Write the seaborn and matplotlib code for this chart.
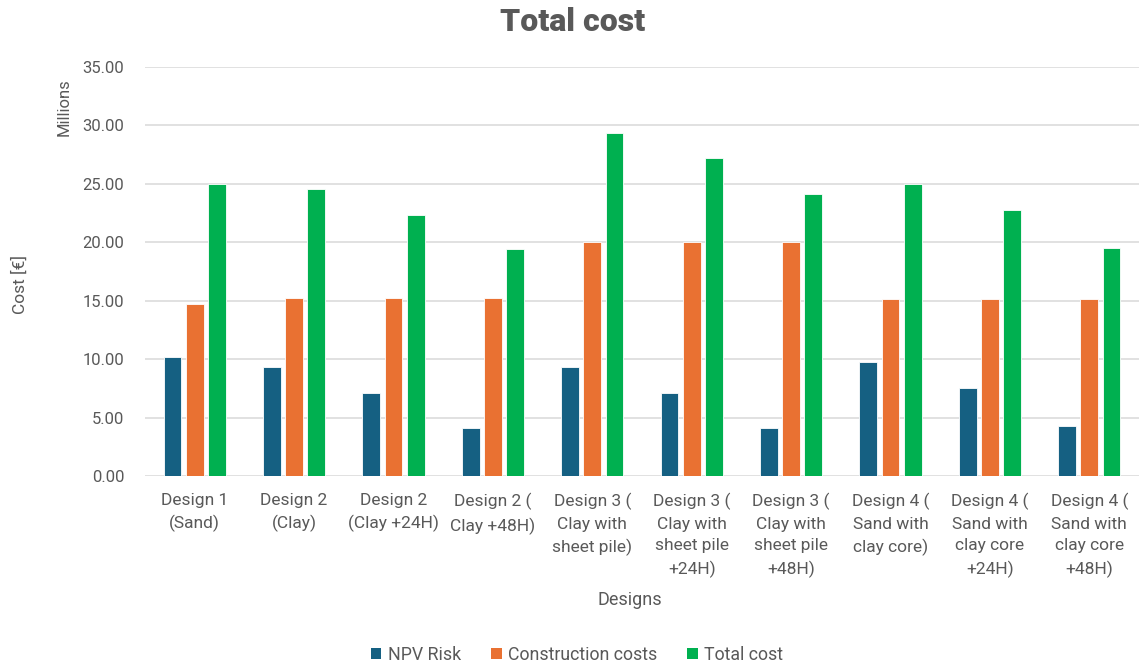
import matplotlib
matplotlib.use("Agg")
import matplotlib.pyplot as plt
from matplotlib.patches import Patch
import seaborn as sns
import pandas as pd

designs = [
    "Design 1\n(Sand)",
    "Design 2\n(Clay)",
    "Design 2\n(Clay +24H)",
    "Design 2 (\nClay +48H)",
    "Design 3 (\nClay with\nsheet pile)",
    "Design 3 (\nClay with\nsheet pile\n+24H)",
    "Design 3 (\nClay with\nsheet pile\n+48H)",
    "Design 4 (\nSand with\nclay core)",
    "Design 4 (\nSand with\nclay core\n+24H)",
    "Design 4 (\nSand with\nclay core\n+48H)",
]
npv_risk = [10.22, 9.30, 7.08, 4.14, 9.30, 7.08, 4.08, 9.73, 7.51, 4.28]
construction_costs = [14.73, 15.24, 15.24, 15.24, 20.03, 20.03, 20.03, 15.13, 15.13, 15.13]
total_cost = [24.97, 24.60, 22.37, 19.43, 29.37, 27.17, 24.17, 24.97, 22.75, 19.49]
series_names = ["NPV Risk", "Construction costs", "Total cost"]
series_colors = ["#156082", "#E97132", "#00B050"]
y_ticks = [0, 5, 10, 15, 20, 25, 30, 35]

df = pd.DataFrame({
    "Design": designs * 3,
    "Series": [s for s in series_names for _ in designs],
    "Cost": npv_risk + construction_costs + total_cost,
})

sns.set_theme(style="white")
plt.rcParams["font.family"] = ["Roboto", "DejaVu Sans"]

txt = "#595959"
fig = plt.figure(figsize=(11.39, 6.64), dpi=100)
ax = fig.add_axes([145 / 1139, 1 - 476 / 664, 1 - 145 / 1139, (476 - 67) / 664])

sns.barplot(data=df, x="Design", y="Cost", hue="Series", hue_order=series_names,
            palette=series_colors, saturation=1, width=0.67, gap=0.2, ax=ax,
            edgecolor="white", linewidth=0.6, legend=False)

ax.set_ylim(0, 35)
ax.set_yticks(y_ticks)
ax.set_yticklabels([f"{v:.2f}" for v in y_ticks], color=txt, fontsize=12)
ax.set_xticks(range(len(designs)))
ax.set_xticklabels(designs, color=txt, fontsize=12.5, linespacing=1.55,
                   va="top", ha="center")
ax.tick_params(axis="y", length=0, pad=15)
ax.tick_params(axis="x", length=0, pad=12)
ax.yaxis.grid(True, color="#d9d9d9", linewidth=1.1)
ax.set_axisbelow(True)
for s in ax.spines.values():
    s.set_visible(False)
ax.set_xlabel("")
ax.set_ylabel("")

fig.text(573 / 1139, 1 - 22 / 664, "Total cost", ha="center", va="center",
         fontsize=23, fontweight="black", color=txt)
fig.text(64 / 1139, 1 - 107 / 664, "Millions", rotation=90, ha="center", va="center",
         fontsize=12, color=txt)
fig.text(20 / 1139, 1 - 285 / 664, "Cost [€]", rotation=90, ha="center", va="center",
         fontsize=12.5, color=txt)
fig.text(630 / 1139, 1 - 600 / 664, "Designs", ha="center", va="center",
         fontsize=13, color=txt)

handles = [Patch(facecolor=c, edgecolor="none", label=n) for c, n in zip(series_colors, series_names)]
fig.legend(handles=handles, loc="center", bbox_to_anchor=(577 / 1139, 1 - 655 / 664),
           ncol=3, frameon=False, fontsize=12.8, handlelength=0.6, handleheight=0.6,
           handletextpad=0.35, columnspacing=1.7, labelcolor=txt)

fig.savefig("out.png", dpi=100)
